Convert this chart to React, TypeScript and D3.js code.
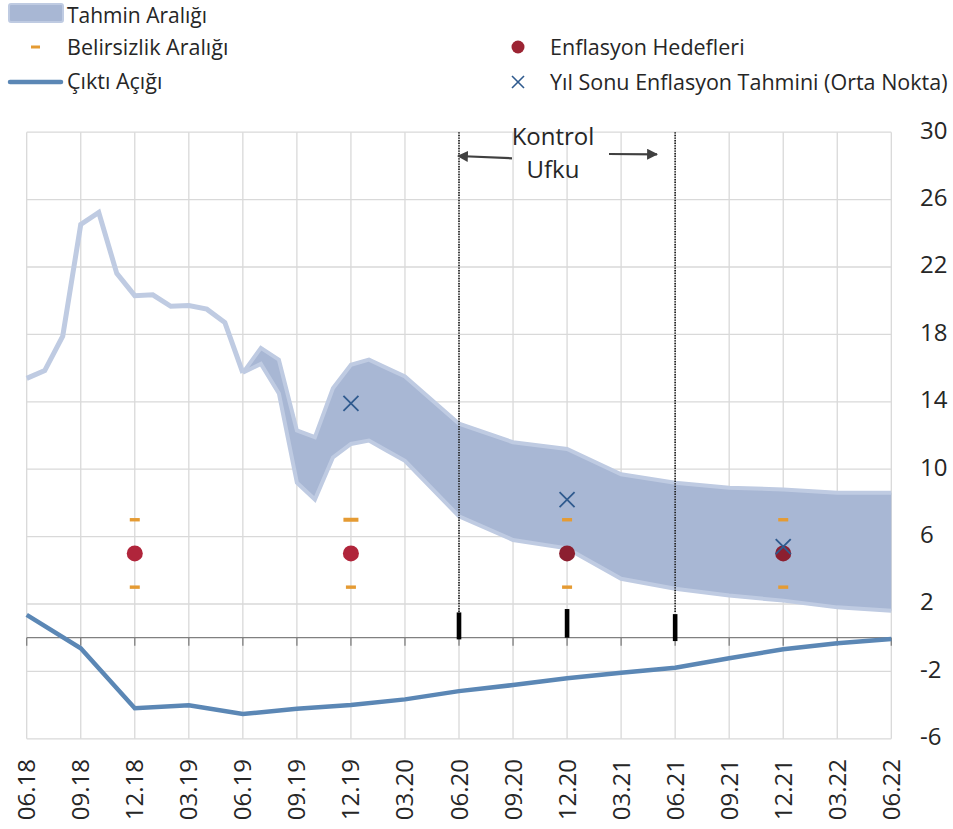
import React from "react";
import * as d3 from "d3";

// ---------- DATA ----------
const quarterLabels = [
  "06.18", "09.18", "12.18", "03.19", "06.19", "09.19", "12.19", "03.20", "06.20",
  "09.20", "12.20", "03.21", "06.21", "09.21", "12.21", "03.22", "06.22",
];
const yTicks = [-6, -2, 2, 6, 10, 14, 18, 22, 26, 30];

// realised inflation (single line part of the fan)
const actualMonths = [
  "2018-06", "2018-07", "2018-08", "2018-09", "2018-10", "2018-11", "2018-12",
  "2019-01", "2019-02", "2019-03", "2019-04", "2019-05", "2019-06",
];
const actualInflation = [15.39, 15.85, 17.9, 24.52, 25.24, 21.62, 20.3, 20.35, 19.67, 19.71, 19.5, 18.71, 15.72];

// forecast range (Tahmin Aralığı)
const fanMonths = [
  "2019-06", "2019-07", "2019-08", "2019-09", "2019-10", "2019-11", "2019-12",
  "2020-01", "2020-02", "2020-03", "2020-06", "2020-09", "2020-12", "2021-03",
  "2021-06", "2021-09", "2021-12", "2022-03", "2022-06",
];
const fanLower = [15.72, 16.25, 14.5, 9.2, 8.2, 10.7, 11.5, 11.7, 11.1, 10.5, 7.2, 5.8, 5.3, 3.5, 2.9, 2.5, 2.2, 1.8, 1.6];
const fanUpper = [15.72, 17.2, 16.5, 12.3, 11.9, 14.8, 16.2, 16.5, 16.0, 15.5, 12.7, 11.6, 11.2, 9.7, 9.2, 8.9, 8.8, 8.6, 8.6];

// output gap (Çıktı Açığı), quarterly
const outputGap = [1.35, -0.63, -4.19, -4.01, -4.53, -4.21, -3.99, -3.66, -3.17, -2.81, -2.41, -2.08, -1.78, -1.22, -0.69, -0.33, -0.08];

// inflation targets and uncertainty band
const targetLabels = ["12.18", "12.19", "12.20", "12.21"];
const targetValues = [5, 5, 5, 5];
const uncertaintyUpper = [7, 7, 7, 7];
const uncertaintyLower = [3, 3, 3, 3];

// year-end forecast midpoints
const forecastLabels = ["12.19", "12.20", "12.21"];
const forecastValues = [13.9, 8.2, 5.4];

// control horizon
const horizonLabels = ["06.20", "06.21"];
const horizonBarLabels = ["06.20", "12.20", "06.21"];
const horizonBarTop = [1.5, 1.7, 1.4];
const horizonBarBottom = [-0.1, 0, -0.2];

// ---------- HELPERS ----------
const monthIndex = (s: string) => {
  const [yy, mm] = s.split("-").map(Number);
  return (yy - 2018) * 12 + (mm - 6);
};
const labelIndex = (s: string) => {
  const [mm, yy] = s.split(".").map(Number);
  return (2000 + yy - 2018) * 12 + (mm - 6);
};

const FONT = "'Open Sans', 'DejaVu Sans', sans-serif";
const TEXT = "#262626";
const BAND_FILL = "#A8B7D4";
const BAND_EDGE = "#BFCBE2";
const GAP_COLOR = "#5B87B5";
const ORANGE = "#E59B33";
const XCOLOR = "#2F5A8E";
const LEG_FS = 21.5;

export default function App() {
  const x = d3.scaleLinear().domain([0, 48]).range([26.7, 891.3]);
  const y = d3.scaleLinear().domain([-6, 30]).range([738.8, 132.2]);

  const fanIdx = fanMonths.map((_, i) => i);
  const area = d3
    .area<number>()
    .x((i) => x(monthIndex(fanMonths[i])))
    .y0((i) => y(fanLower[i]))
    .y1((i) => y(fanUpper[i]));
  const upperLine = d3
    .line<number>()
    .x((i) => x(monthIndex(fanMonths[i])))
    .y((i) => y(fanUpper[i]));
  const lowerLine = d3
    .line<number>()
    .x((i) => x(monthIndex(fanMonths[i])))
    .y((i) => y(fanLower[i]));
  const actualLine = d3
    .line<number>()
    .x((i) => x(monthIndex(actualMonths[i])))
    .y((i) => y(actualInflation[i]));
  const gapLine = d3
    .line<number>()
    .x((i) => x(labelIndex(quarterLabels[i])))
    .y((i) => y(outputGap[i]));

  const bandAt = (m: number) => {
    for (let i = 0; i < fanMonths.length - 1; i++) {
      const a = monthIndex(fanMonths[i]);
      const b = monthIndex(fanMonths[i + 1]);
      if (m >= a && m <= b) {
        const t = (m - a) / (b - a || 1);
        return [fanLower[i] + t * (fanLower[i + 1] - fanLower[i]), fanUpper[i] + t * (fanUpper[i + 1] - fanUpper[i])];
      }
    }
    return null;
  };

  const xLeft = x(0);
  const xRight = x(48);

  return (
    <svg
      width={953}
      height={829}
      style={{ position: "absolute", left: 0, top: 0, background: "#fff" }}
      fontFamily={FONT}
    >
      {/* grid */}
      <g stroke="#D9D9D9" strokeWidth={1.3}>
        {yTicks.map((t) => (
          <line key={"h" + t} x1={xLeft} x2={xRight} y1={y(t)} y2={y(t)} />
        ))}
        {quarterLabels.map((q) => (
          <line key={"v" + q} x1={x(labelIndex(q))} x2={x(labelIndex(q))} y1={y(30)} y2={y(-6)} />
        ))}
      </g>

      {/* zero axis */}
      <line x1={xLeft} x2={xRight} y1={y(0)} y2={y(0)} stroke="#808080" strokeWidth={1.3} />
      {quarterLabels.map((q) => (
        <line key={"t" + q} x1={x(labelIndex(q))} x2={x(labelIndex(q))} y1={y(0)} y2={y(0) + 8} stroke="#808080" strokeWidth={1.3} />
      ))}

      {/* forecast band */}
      <path d={area(fanIdx) || ""} fill={BAND_FILL} />
      <path d={upperLine(fanIdx) || ""} fill="none" stroke={BAND_EDGE} strokeWidth={4} />
      <path d={lowerLine(fanIdx) || ""} fill="none" stroke={BAND_EDGE} strokeWidth={4} />
      <path d={actualLine(actualMonths.map((_, i) => i)) || ""} fill="none" stroke={BAND_EDGE} strokeWidth={5} />

      {/* output gap */}
      <path d={gapLine(quarterLabels.map((_, i) => i)) || ""} fill="none" stroke={GAP_COLOR} strokeWidth={4.5} />

      {/* control horizon lines */}
      {horizonLabels.map((h) => (
        <line key={"hl" + h} x1={x(labelIndex(h))} x2={x(labelIndex(h))} y1={y(30)} y2={y(1.5)} stroke="#222" strokeWidth={1.7} strokeDasharray="1.4,1.2" />
      ))}
      {horizonBarLabels.map((h, i) => (
        <rect key={"hb" + h} x={x(labelIndex(h)) - 2.3} width={4.6} y={y(horizonBarTop[i])} height={y(horizonBarBottom[i]) - y(horizonBarTop[i])} fill="#000" />
      ))}

      {/* targets */}
      {targetLabels.map((t, i) => {
        const m = labelIndex(t);
        const band = bandAt(m);
        const inside = band && targetValues[i] >= band[0] - 0.6 && targetValues[i] <= band[1];
        return <circle key={"tg" + t} cx={x(m)} cy={y(targetValues[i])} r={8} fill={inside ? "#8C1F30" : "#B0253B"} />;
      })}
      {targetLabels.map((t, i) => {
        const m = labelIndex(t);
        const wide = forecastLabels[0] === t;
        return (
          <g key={"u" + t} fill={ORANGE}>
            <rect x={x(m) - (wide ? 7.5 : 5)} width={wide ? 15 : 10} y={y(uncertaintyUpper[i]) - (wide ? 2 : 1.7)} height={wide ? 4 : 3.4} />
            <rect x={x(m) - 5} width={10} y={y(uncertaintyLower[i]) - 1.7} height={3.4} />
          </g>
        );
      })}

      {/* year-end forecast midpoints */}
      {forecastLabels.map((f, i) => {
        const cx = x(labelIndex(f));
        const cy = y(forecastValues[i]);
        const s = 7.5;
        return (
          <g key={"f" + f} stroke={XCOLOR} strokeWidth={1.8}>
            <line x1={cx - s} x2={cx + s} y1={cy - s} y2={cy + s} />
            <line x1={cx - s} x2={cx + s} y1={cy + s} y2={cy - s} />
          </g>
        );
      })}

      {/* Kontrol Ufku annotation */}
      <text x={553} y={139} fontSize={24} fill={TEXT} textAnchor="middle" dominantBaseline="middle">Kontrol</text>
      <text x={553} y={172} fontSize={24} fill={TEXT} textAnchor="middle" dominantBaseline="middle">Ufku</text>
      <defs>
        <marker id="ah" viewBox="0 0 10 10" refX={9} refY={5} markerWidth={5} markerHeight={5} orient="auto">
          <path d="M0,0 L10,5 L0,10 z" fill="#404040" />
        </marker>
      </defs>
      <line x1={512} y1={158.3} x2={458} y2={156} stroke="#404040" strokeWidth={2.2} markerEnd="url(#ah)" />
      <line x1={609} y1={154} x2={657} y2={154.3} stroke="#404040" strokeWidth={2.2} markerEnd="url(#ah)" />

      {/* y axis labels (right) */}
      {yTicks.map((t) => (
        <text key={"yl" + t} x={920} y={y(t)} fontSize={24} fill={TEXT} dominantBaseline="middle">
          {t}
        </text>
      ))}

      {/* x axis labels */}
      {quarterLabels.map((q) => {
        const cx = x(labelIndex(q));
        return (
          <text key={"xl" + q} transform={`translate(${cx + 8.5},759) rotate(-90)`} fontSize={24} fill={TEXT} textAnchor="end">
            {q}
          </text>
        );
      })}

      {/* legend */}
      <rect x={9} y={4} width={54} height={18} rx={2} fill={BAND_FILL} stroke={BAND_EDGE} strokeWidth={2} />
      <text x={67} y={22.5} fontSize={21} fill={TEXT}>Tahmin Aralığı</text>
      <rect x={31} y={45.5} width={9} height={3} fill={ORANGE} />
      <text x={67} y={55} fontSize={LEG_FS} fill={TEXT}>Belirsizlik Aralığı</text>
      <line x1={10} x2={61} y1={82} y2={82} stroke={GAP_COLOR} strokeWidth={4.5} strokeLinecap="round" />
      <text x={67} y={88.5} fontSize={LEG_FS} fill={TEXT}>Çıktı Açığı</text>

      <circle cx={518} cy={47} r={6.5} fill="#9C2433" />
      <text x={550} y={55} fontSize={LEG_FS} fill={TEXT}>Enflasyon Hedefleri</text>
      <g stroke={XCOLOR} strokeWidth={1.6}>
        <line x1={512} x2={524} y1={76} y2={88} />
        <line x1={512} x2={524} y1={88} y2={76} />
      </g>
      <text x={550} y={89.5} fontSize={LEG_FS} fill={TEXT}>Yıl Sonu Enflasyon Tahmini (Orta Nokta)</text>
    </svg>
  );
}
